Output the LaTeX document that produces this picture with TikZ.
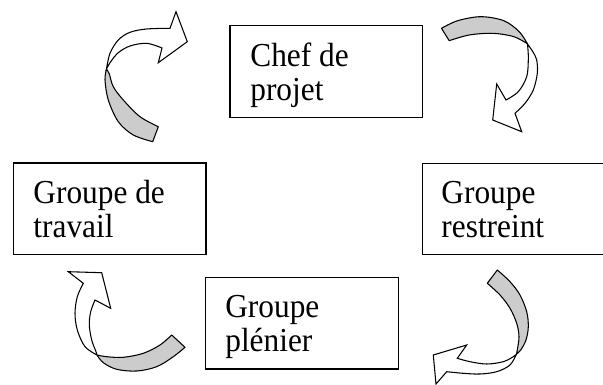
\documentclass[tikz,border=0pt]{standalone}
\usepackage{fontspec}
\setmainfont{Liberation Serif}
\usetikzlibrary{calc}
\definecolor{shade}{RGB}{204,204,204}
\tikzset{
  box/.style={draw, line width=1.1pt, inner sep=0pt, anchor=north west,
    minimum width=192.7*0.75pt, minimum height=91.5*0.75pt},
  lbl/.style={anchor=base west, inner sep=0pt,
    font=\fontsize{23.5pt}{23.35pt}\selectfont},
  under/.style={fill=shade, draw=black, line width=0.8pt, line join=round},
  over/.style={fill=white, draw=black, line width=0.8pt, line join=miter},
  sm/.style={smooth, tension=0.55}
}
\newcommand\twolines[2]{\scalebox{1}[1.07]{\begin{tabular}[t]{@{}l@{}}#1\\#2\end{tabular}}}
\begin{document}
\begin{tikzpicture}[x=0.75pt, y=-0.75pt]
\useasboundingbox (0,0) rectangle (603,385);
\clip (0,0) rectangle (603,385);

% boxes
\node[box] (chef) at (229.3,25) {};
\node[box] (travail) at (12.7,162.3) {};
\node[box] (restreint) at (421.7,162.5) {};
\node[box] (plenier) at (204.8,276.8) {};

% labels
\node[lbl] (tchef) at ($(chef.north west)+(20.8,41.7)$) {\twolines{Chef de}{projet}};
\node[lbl] (ttravail) at ($(travail.north west)+(20.5,41.4)$) {\twolines{Groupe de}{travail}};
\node[lbl] (trestreint) at ($(restreint.north west)+(19.5,41.2)$) {\twolines{Groupe}{restreint}};
\node[lbl] (tplenier) at ($(plenier.north west)+(20.3,40.9)$) {\twolines{Groupe}{plénier}};

% arrow 1 : travail -> chef
\filldraw[under] plot[sm] coordinates {(106.5,69) (105,80) (108.3,100) (118.3,121.7) (133.3,135) (152.7,141.7)}
  -- plot[sm] coordinates {(158.3,126.7) (140,116.7) (123.3,100) (113.3,86.7) (109.3,74) (106.5,69)} -- cycle;
\filldraw[over] plot[sm] coordinates {(106.5,69) (110,53.3) (118.3,40) (130,32.3) (146.7,29) (170,28.3)}
  -- (176,11.7) -- (187.3,41.7) -- (158.3,62.7)
  -- plot[sm] coordinates {(162,48) (146.7,43.3) (130,46) (118.3,52.7) (110.7,61.7) (106.5,69)} -- cycle;

% arrow 2 : chef -> restreint
\filldraw[under] plot[sm] coordinates {(441.5,28.3) (457.7,20.7) (480.8,16.7) (503.8,20.7) (519.2,31.7) (527.5,44)}
  -- plot[sm] coordinates {(527.5,44) (522,40.5) (511.5,36) (492.3,33.3) (469.2,35) (449.2,40.7)} -- cycle;
\filldraw[over] plot[sm] coordinates {(527.5,44) (533,52) (536.7,60) (537.3,73.3) (533.3,90) (525,103.3) (515,113.3)}
  -- (521.7,131.7) -- (492.7,120) -- (496.7,84)
  -- plot[sm] coordinates {(506,100) (518.3,91.7) (526.7,76.7) (528.3,60) (528,50) (527.5,44)} -- cycle;

% arrow 3 : restreint -> plenier
\filldraw[under] plot[sm] coordinates {(487.3,283.3) (500,295) (510,308.3) (516.7,323.3) (519,336.7) (517.3,350) (516.5,354)}
  -- plot[sm] coordinates {(516.5,354) (520.7,350) (526,340) (528.3,326.7) (526.7,311.7) (520,295) (510,281.7) (497.3,270)} -- cycle;
\filldraw[over] plot[sm] coordinates {(516.5,354) (510,365) (496.7,371.7) (480,374) (463.3,373.3) (446.7,371.7)}
  -- (436,384) -- (433.3,355) -- (466.7,345)
  -- plot[sm] coordinates {(457.3,358.3) (470,361.7) (486.7,364) (503.3,361.7) (513.3,356.7) (516.5,354)} -- cycle;

% arrow 4 : plenier -> travail
\filldraw[under] plot[sm] coordinates {(171.7,335) (160,345) (143.3,353.3) (123.3,357.3) (106.7,356.7) (97,355)}
  -- plot[sm] coordinates {(97,355) (103.3,362.7) (116.7,369.3) (136.7,371) (156.7,366.7) (173.3,356.7) (185,347.3)} -- cycle;
\filldraw[over] plot[sm] coordinates {(97,355) (85,346.7) (77.3,330) (75,313.3) (77.3,296.7) (83.3,283.3)}
  -- (68.3,271.7) -- (101.7,272.7) -- (110.7,308.3)
  -- plot[sm] coordinates {(95,300) (90.7,311.7) (89.3,325) (91.7,340) (96,351.7) (97,355)} -- cycle;
\end{tikzpicture}
\end{document}
